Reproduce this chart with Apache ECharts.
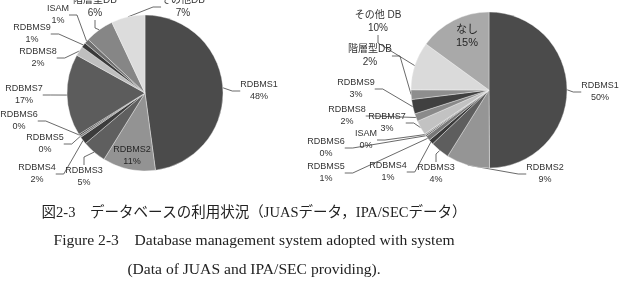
<!DOCTYPE html>
<html><head><meta charset="utf-8">
<script src="https://cdn.jsdelivr.net/npm/echarts@6/dist/echarts.min.js"></script>
<style>html,body{margin:0;padding:0;background:#fff}#c{width:626px;height:294px}</style>
</head><body><div id="c"></div>
<script>
// Left pie (JUAS)
const leftNames = ['RDBMS1','RDBMS2','RDBMS3','RDBMS4','RDBMS5','RDBMS6','RDBMS7','RDBMS8','RDBMS9','ISAM','階層型DB','その他DB'];
const leftValues = [48, 11, 5, 1.6, 0.4, 0.3, 17, 2, 1, 1, 6, 7];
const leftColors = ['#4b4b4b','#939393','#5f5f5f','#3c3c3c','#7a7a7a','#2e2e2e','#5c5c5c','#bfbfbf','#3a3a3a','#707070','#868686','#dcdcdc'];
// Right pie (IPA/SEC)
const rightNames = ['RDBMS1','RDBMS2','RDBMS3','RDBMS4','RDBMS5','RDBMS6','ISAM','RDBMS7','RDBMS8','RDBMS9','階層型DB','その他 DB','なし'];
const rightValues = [50, 9, 4, 1, 1, 0.3, 0.3, 3, 1.6, 3, 2, 10, 15];
const rightColors = ['#4b4b4b','#959595','#5e5e5e','#3a3a3a','#777777','#555555','#9a9a9a','#c2c2c2','#8a8a8a','#404040','#8e8e8e','#dadada','#a9a9a9'];
// caption
const captionLines = ['図2-3　データベースの利用状況（JUASデータ，IPA/SECデータ）',
  'Figure 2-3　Database management system adopted with system',
  '(Data of JUAS and IPA/SEC providing).'];

// label layout positions (label centres)
const leftLabelPos = [[259,91],[132,156],[84,177],[37,174],[45,144],[19,121],[24,95],[38,58],[32,34],[58,15],[95,7],[183,7]];
const rightLabelPos = [[600,92],[545,174],[436,174],[388,172],[326,173],[326,148],[366,140],[387,123],[347,116],[356,89],[370,56],[378,22],[467,36]];
const leftInside = [1];
const rightInside = [12];
const jpNames = ['階層型DB','その他DB','その他 DB','なし'];

const fmt = p => p.name + '\n' + Math.round(p.value) + '%';
function mk(names, values, colors, inside) {
  return names.map((n, i) => {
    const d = {name: n, value: values[i], itemStyle: {color: colors[i]}};
    const lab = {};
    if (inside.indexOf(i) >= 0) { lab.position = 'inside'; lab.color = '#262626'; d.labelLine = {show: false}; }
    if (jpNames.indexOf(n) >= 0) { lab.fontSize = n === 'なし' ? 11 : 10; lab.lineHeight = 13; }
    d.label = lab;
    return d;
  });
}
const labelCommon = {
  formatter: fmt, fontSize: 9, lineHeight: 12, color: '#333', overflow: 'none',
  fontFamily: "'Liberation Sans','Noto Sans CJK JP',sans-serif", align: 'center'
};
function layoutFn(posArr) {
  return p => {
    const pos = posArr[p.dataIndex];
    return pos ? {x: pos[0], y: pos[1], align: 'center', verticalAlign: 'middle'} : {};
  };
}
const chart = echarts.init(document.getElementById('c'), null, {renderer: 'canvas'});
chart.setOption({
  animation: false,
  series: [
    {
      type: 'pie', center: [145, 93], radius: 78, startAngle: 90, clockwise: true,
      itemStyle: {borderColor: '#f4f4f4', borderWidth: 0.4},
      label: labelCommon,
      labelLine: {show: true, length: 6, length2: 8, lineStyle: {color: '#444', width: 0.8}},
      labelLayout: layoutFn(leftLabelPos),
      data: mk(leftNames, leftValues, leftColors, leftInside)
    },
    {
      type: 'pie', center: [489, 90], radius: 78, startAngle: 90, clockwise: true,
      itemStyle: {borderColor: '#f4f4f4', borderWidth: 0.4},
      label: labelCommon,
      labelLine: {show: true, length: 6, length2: 8, lineStyle: {color: '#444', width: 0.8}},
      labelLayout: layoutFn(rightLabelPos),
      data: mk(rightNames, rightValues, rightColors, rightInside)
    }
  ],
  graphic: captionLines.map((t, i) => ({
    type: 'text', x: 254, y: [213, 241, 270][i],
    style: {text: t, fill: '#222', fontSize: [14.5, 15.6, 15.6][i], align: 'center', verticalAlign: 'middle',
      fontFamily: "'Liberation Serif','DejaVu Serif','Noto Sans CJK JP',serif"}
  }))
});
</script></body></html>
